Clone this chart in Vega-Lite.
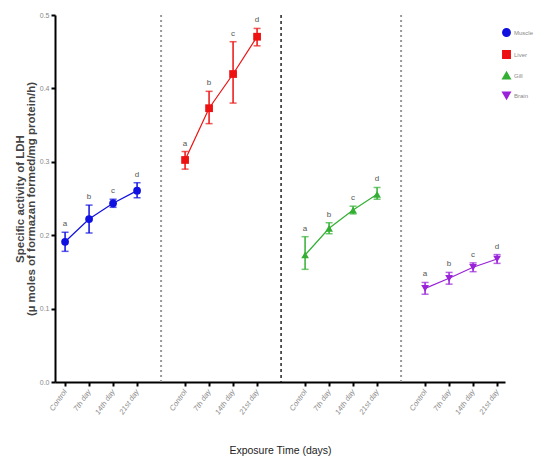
{
  "$schema": "https://vega.github.io/schema/vega-lite/v6.json",
  "autosize": {"type": "none"},
  "width": 450,
  "height": 367,
  "padding": {"left": 55, "top": 15, "right": 42, "bottom": 84},
  "background": "white",
  "config": {
    "view": {"stroke": null},
    "font": "Liberation Sans",
    "axis": {"grid": false, "domainColor": "black", "domainWidth": 2, "tickColor": "black", "tickWidth": 2, "tickSize": 4}
  },
  "datasets": {
    "series": [
      {"tissue": "Muscle", "day": "Control", "pos": 1, "mean": 0.191, "lo": 0.178, "hi": 0.204, "letter": "a"},
      {"tissue": "Muscle", "day": "7th day", "pos": 2, "mean": 0.222, "lo": 0.203, "hi": 0.241, "letter": "b"},
      {"tissue": "Muscle", "day": "14th day", "pos": 3, "mean": 0.2435, "lo": 0.238, "hi": 0.249, "letter": "c"},
      {"tissue": "Muscle", "day": "21st day", "pos": 4, "mean": 0.2607, "lo": 0.251, "hi": 0.2715, "letter": "d"},
      {"tissue": "Liver", "day": "Control", "pos": 6, "mean": 0.3025, "lo": 0.290, "hi": 0.314, "letter": "a"},
      {"tissue": "Liver", "day": "7th day", "pos": 7, "mean": 0.373, "lo": 0.352, "hi": 0.396, "letter": "b"},
      {"tissue": "Liver", "day": "14th day", "pos": 8, "mean": 0.4196, "lo": 0.380, "hi": 0.4636, "letter": "c"},
      {"tissue": "Liver", "day": "21st day", "pos": 9, "mean": 0.4704, "lo": 0.458, "hi": 0.4817, "letter": "d"},
      {"tissue": "Gill", "day": "Control", "pos": 11, "mean": 0.173, "lo": 0.1535, "hi": 0.198, "letter": "a"},
      {"tissue": "Gill", "day": "7th day", "pos": 12, "mean": 0.2094, "lo": 0.202, "hi": 0.217, "letter": "b"},
      {"tissue": "Gill", "day": "14th day", "pos": 13, "mean": 0.2343, "lo": 0.229, "hi": 0.2395, "letter": "c"},
      {"tissue": "Gill", "day": "21st day", "pos": 14, "mean": 0.2557, "lo": 0.249, "hi": 0.265, "letter": "d"},
      {"tissue": "Brain", "day": "Control", "pos": 16, "mean": 0.1276, "lo": 0.1196, "hi": 0.1356, "letter": "a"},
      {"tissue": "Brain", "day": "7th day", "pos": 17, "mean": 0.1413, "lo": 0.1333, "hi": 0.1493, "letter": "b"},
      {"tissue": "Brain", "day": "14th day", "pos": 18, "mean": 0.1563, "lo": 0.1503, "hi": 0.1623, "letter": "c"},
      {"tissue": "Brain", "day": "21st day", "pos": 19, "mean": 0.1676, "lo": 0.1616, "hi": 0.1736, "letter": "d"}
    ],
    "sepGrey": [{"pos": 5}, {"pos": 15}],
    "sepBlack": [{"pos": 10}]
  },
  "encoding": {
    "x": {
      "field": "pos", "type": "quantitative",
      "scale": {"domain": [0.58, 19.33], "nice": false, "zero": false},
      "axis": {
        "values": [1, 2, 3, 4, 6, 7, 8, 9, 11, 12, 13, 14, 16, 17, 18, 19],
        "labelExpr": "['', 'Control', '7th day', '14th day', '21st day'][datum.value % 5]",
        "labelAngle": -55, "labelAlign": "right", "labelBaseline": "middle", "labelPadding": 4,
        "labelFontSize": 7.5, "labelColor": "#8a8a8a", "labelFontStyle": "italic",
        "title": "Exposure Time (days)", "titleFontSize": 10.5, "titleFontWeight": "normal",
        "titleColor": "#222222", "titlePadding": 30
      }
    },
    "color": {"field": "tissue", "type": "nominal",
      "scale": {"domain": ["Muscle", "Liver", "Gill", "Brain"], "range": ["#1010e0", "#ee1111", "#33b033", "#9a22d8"]},
      "legend": {"orient": "none", "legendX": 447, "legendY": 13, "title": null, "symbolOpacity": 1,
        "labelFontSize": 6, "labelColor": "#888888", "symbolSize": 55, "rowPadding": 7, "labelOffset": 3}}
  },
  "layer": [
    {
      "data": {"name": "sepGrey"},
      "mark": {"type": "rule", "strokeWidth": 2, "strokeDash": [2, 3]},
      "encoding": {"color": {"value": "#9a9a9a"}}
    },
    {
      "data": {"name": "sepBlack"},
      "mark": {"type": "rule", "strokeWidth": 1.5, "strokeDash": [3, 3]},
      "encoding": {"color": {"value": "#222222"}}
    },
    {
      "data": {"name": "series"},
      "mark": {"type": "line", "strokeWidth": 1.2},
      "encoding": {
        "y": {
          "field": "mean", "type": "quantitative",
          "scale": {"domain": [0, 0.5], "nice": false},
          "title": ["Specific activity of LDH", "(µ moles of formazan formed/mg protein/h)"],
          "axis": {
            "values": [0, 0.1, 0.2, 0.3, 0.4, 0.5], "format": ".1f",
            "labelFontSize": 7, "labelColor": "#888888",
            "titleFontSize": 11.5, "titleFontWeight": "bold", "titleColor": "#444444", "titlePadding": 3, "titleLineHeight": 10.5
          }
        },
        "detail": {"field": "tissue"}
      }
    },
    {
      "data": {"name": "series"},
      "mark": {"type": "errorbar", "ticks": {"size": 7}, "thickness": 1.5},
      "encoding": {
        "y": {"field": "lo", "type": "quantitative", "title": ["Specific activity of LDH", "(µ moles of formazan formed/mg protein/h)"]},
        "y2": {"field": "hi"}
      }
    },
    {
      "data": {"name": "series"},
      "mark": {"type": "point", "filled": true, "opacity": 1, "size": 60},
      "encoding": {
        "y": {"field": "mean", "type": "quantitative", "title": ["Specific activity of LDH", "(µ moles of formazan formed/mg protein/h)"]},
        "shape": {"field": "tissue", "type": "nominal",
          "scale": {"domain": ["Muscle", "Liver", "Gill", "Brain"], "range": ["circle", "square", "triangle-up", "triangle-down"]},
          "legend": {"orient": "none", "legendX": 447, "legendY": 13, "title": null, "symbolOpacity": 1,
            "labelFontSize": 6, "labelColor": "#888888", "symbolSize": 55, "rowPadding": 7, "labelOffset": 3}}
      }
    },
    {
      "data": {"name": "series"},
      "mark": {"type": "text", "dy": -8, "fontSize": 8, "color": "#555555"},
      "encoding": {
        "y": {"field": "hi", "type": "quantitative", "title": ["Specific activity of LDH", "(µ moles of formazan formed/mg protein/h)"]},
        "text": {"field": "letter"},
        "color": {"value": "#555555"}
      }
    }
  ]
}
